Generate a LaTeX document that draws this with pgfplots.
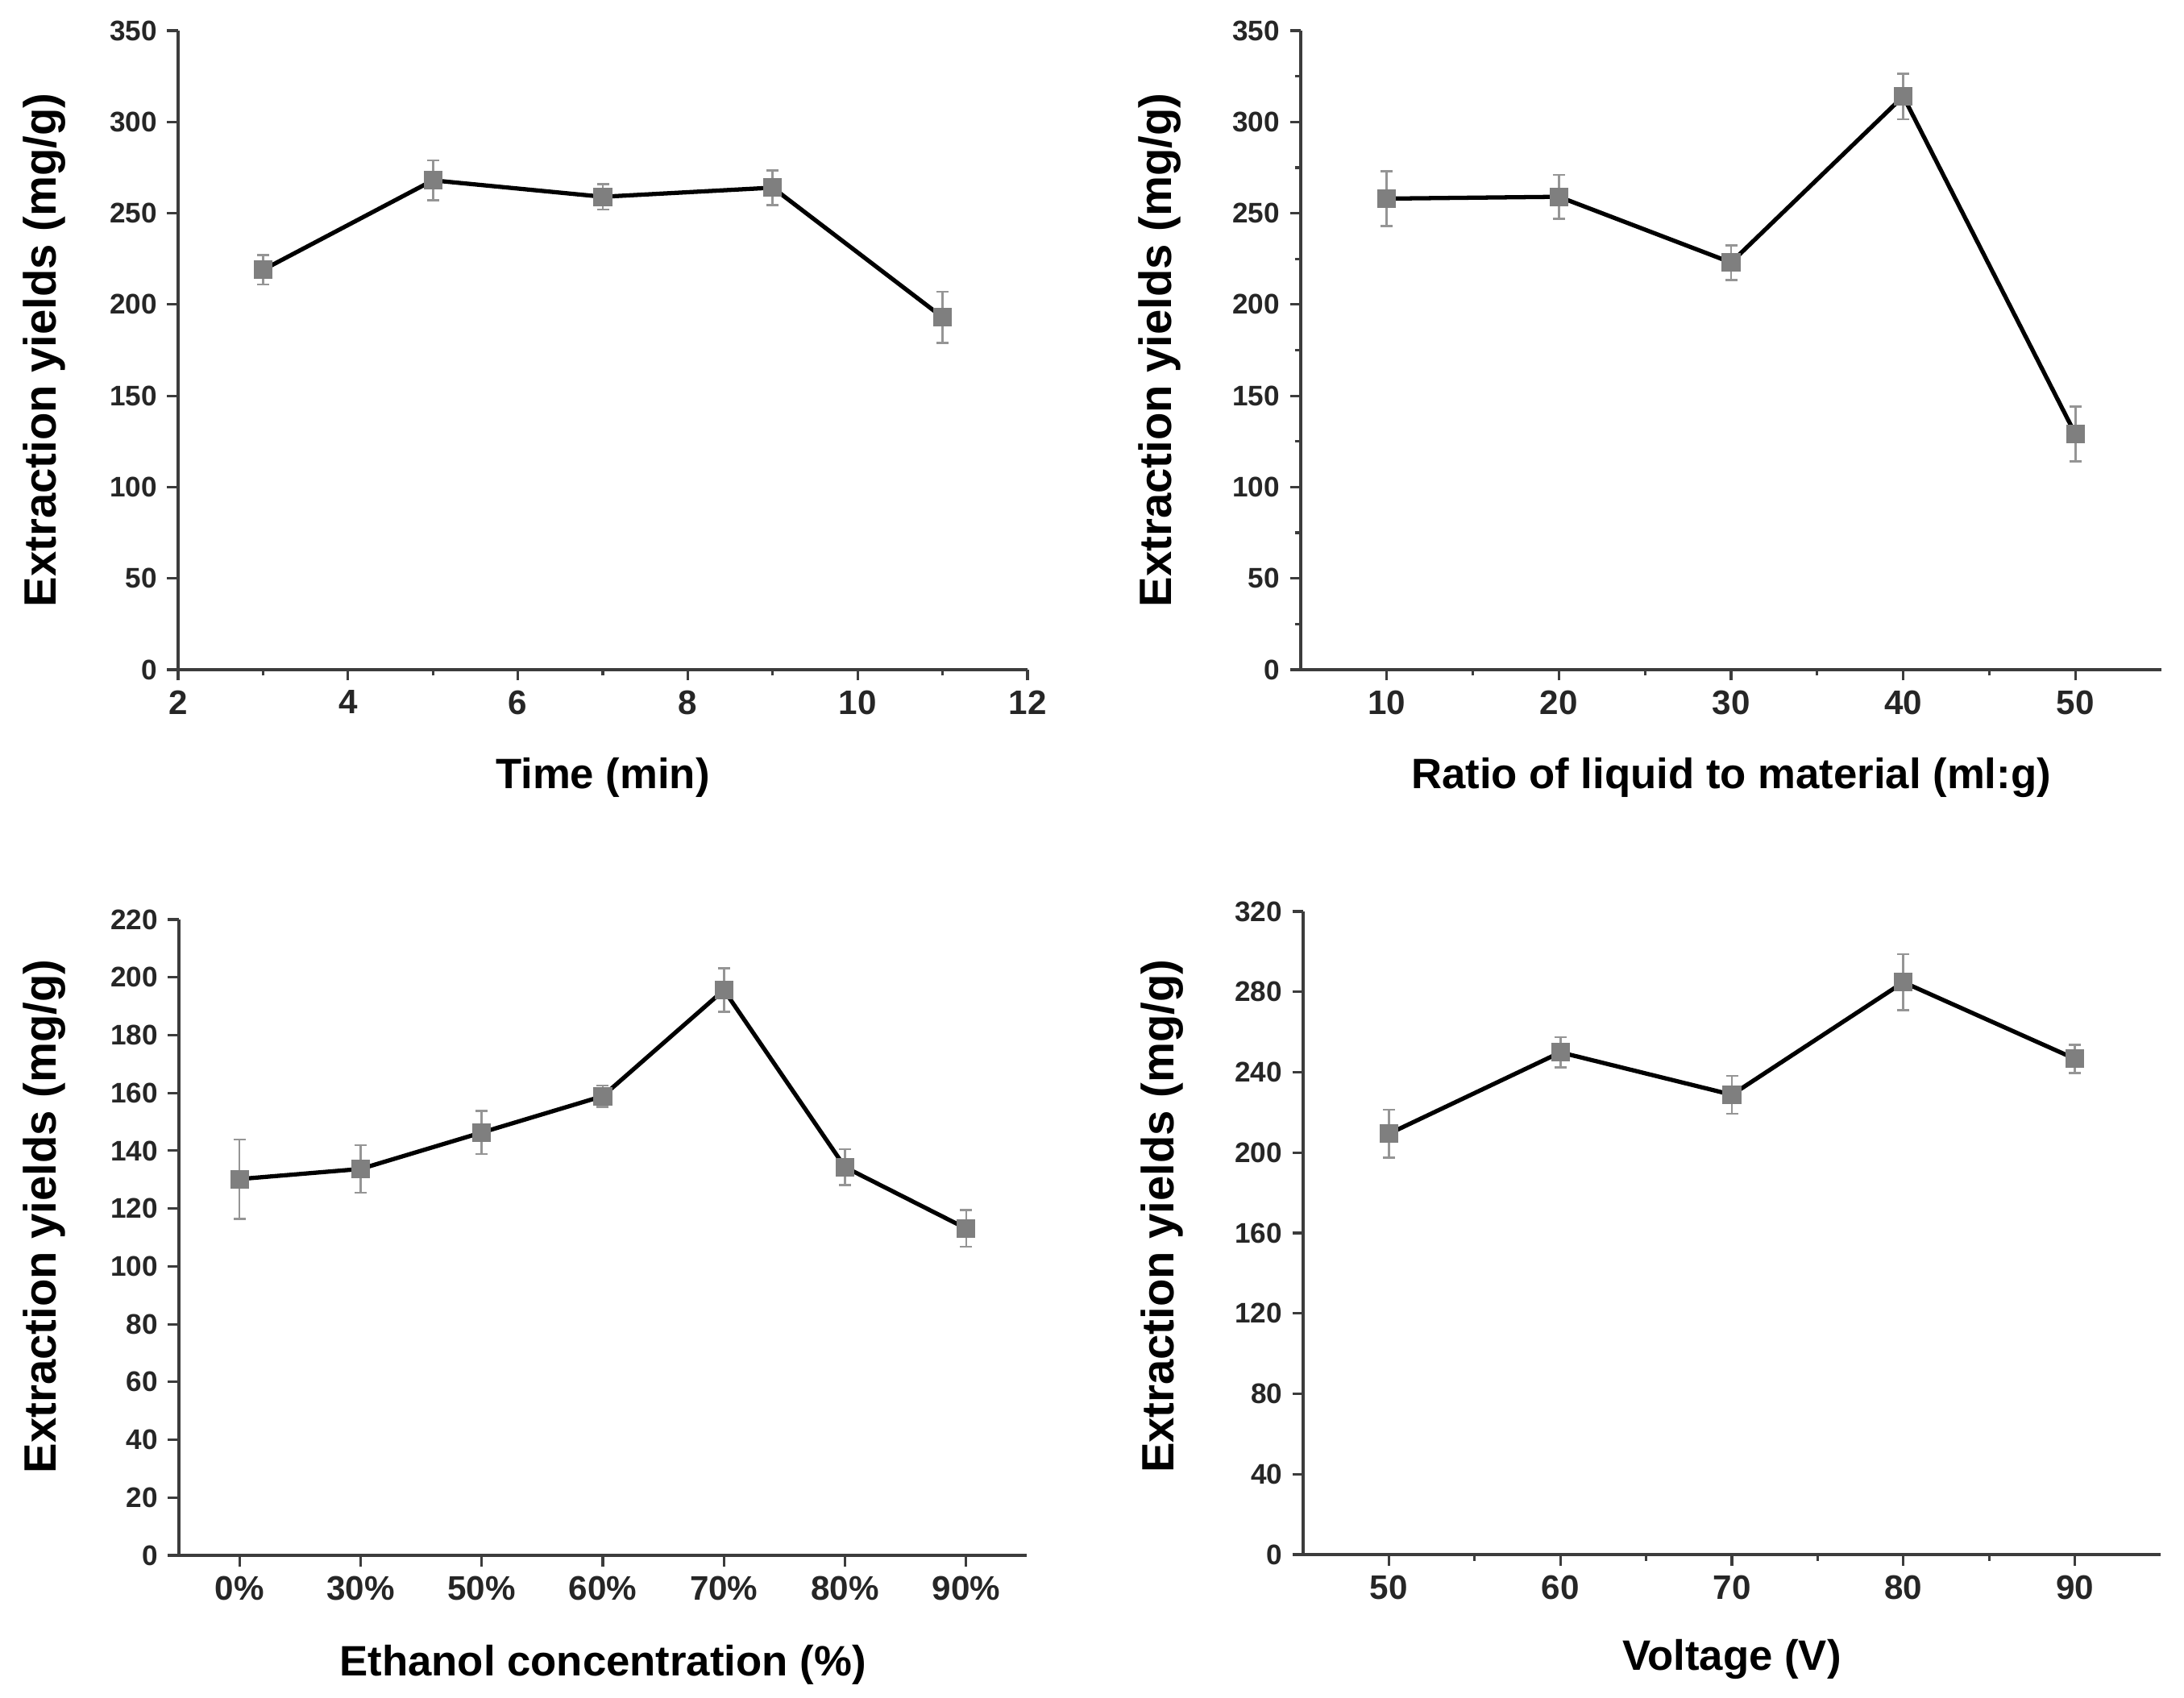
\documentclass[border=0pt]{standalone}
\usepackage{fontspec}
\setmainfont{Liberation Sans}
\usepackage{pgfplots}
\pgfplotsset{compat=1.18}

\definecolor{axgray}{HTML}{3C3C3C}
\definecolor{mkgray}{HTML}{7F7F7F}
\definecolor{ebgray}{HTML}{959595}

\pgfplotsset{
  panel/.style={
    scale only axis,
    axis lines=left,
    axis line style={-, axgray, line width=0.95pt},
    every tick/.style={axgray, line width=0.9pt},
    tick align=outside,
    major tick length=1.35mm,
    minor tick length=0.75mm,
    clip=false,
    /pgf/number format/assume math mode=true,
    yticklabel style={font=\fontsize{10}{12}\selectfont\bfseries, text=black!85},
    xticklabel style={font=\fontsize{12}{14}\selectfont\bfseries, text=black!85},
    xlabel style={font=\fontsize{15}{18}\selectfont\bfseries,
      at={(axis description cs:0.5,0)}, anchor=base, yshift=-14.7mm},
    ylabel style={font=\fontsize{16}{19}\selectfont\bfseries, anchor=base},
    ylabel={Extraction yields (mg/g)},
  },
  series/.style={
    black, line width=1.5pt,
    mark=square*, mark size=1.1mm,
    mark options={fill=mkgray, draw=mkgray, line width=0.3pt},
    error bars/.cd, y dir=both, y explicit,
    error bar style={ebgray, line width=0.75pt},
    error mark options={rotate=90, mark size=0.75mm, ebgray, line width=0.75pt},
  },
}

\begin{document}
\begin{tikzpicture}
\path[use as bounding box] (0,0) rectangle (271mm,210.6mm);

% top left: time
\begin{axis}[panel,
  at={(22.1mm,127.5mm)}, anchor=south west,
  width=105.4mm, height=79.3mm,
  xmin=2, xmax=12, ymin=0, ymax=350,
  xtick={2,4,...,12}, ytick={0,50,...,350},
  minor x tick num=1,
  xlabel={Time (min)},
  ylabel style={at={(axis description cs:-0.1442,0.5)}},
]
\addplot+[series] table[y error=e] {
x y e
3 219 8
5 268 11
7 259 7
9 264 9.5
11 193 14
};
\end{axis}

% top right: ratio
\begin{axis}[panel,
  at={(161.4mm,127.5mm)}, anchor=south west,
  width=106.8mm, height=79.3mm,
  xmin=5, xmax=55, ymin=0, ymax=350,
  xtick={10,20,...,50}, ytick={0,50,...,350},
  minor x tick num=1, minor y tick num=1,
  xlabel={Ratio of liquid to material (ml:g)},
  ylabel style={at={(axis description cs:-0.150,0.5)}},
]
\addplot+[series] table[y error=e] {
x y e
10 258 15
20 259 12
30 223 9.5
40 314 12.5
50 129 15
};
\end{axis}

% bottom left: ethanol
\begin{axis}[panel,
  at={(22.2mm,17.6mm)}, anchor=south west,
  width=105.2mm, height=78.9mm,
  xmin=0.5, xmax=7.5, ymin=0, ymax=220,
  xtick={1,...,7},
  xticklabels={0\%,30\%,50\%,60\%,70\%,80\%,90\%},
  ytick={0,20,...,220},
  xlabel={Ethanol concentration (\%)},
  xlabel style={yshift=-0.2mm},
  ylabel style={at={(axis description cs:-0.1445,0.533)}},
]
\addplot+[series] table[y error=e] {
x y e
1 130.2 13.7
2 133.7 8.2
3 146.3 7.4
4 158.9 3.7
5 195.6 7.5
6 134.3 6.2
7 113.1 6.3
};
\end{axis}

% bottom right: voltage
\begin{axis}[panel,
  at={(161.7mm,17.7mm)}, anchor=south west,
  width=106.4mm, height=79.8mm,
  xmin=45, xmax=95, ymin=0, ymax=320,
  xtick={50,60,...,90}, ytick={0,40,...,320},
  minor x tick num=1,
  xlabel={Voltage (V)},
  xlabel style={yshift=0.4mm},
  ylabel style={at={(axis description cs:-0.1505,0.526)}},
]
\addplot+[series] table[y error=e] {
x y e
50 209.4 12
60 249.9 7.6
70 228.8 9.4
80 284.8 13.9
90 246.7 7
};
\end{axis}
\end{tikzpicture}
\end{document}
